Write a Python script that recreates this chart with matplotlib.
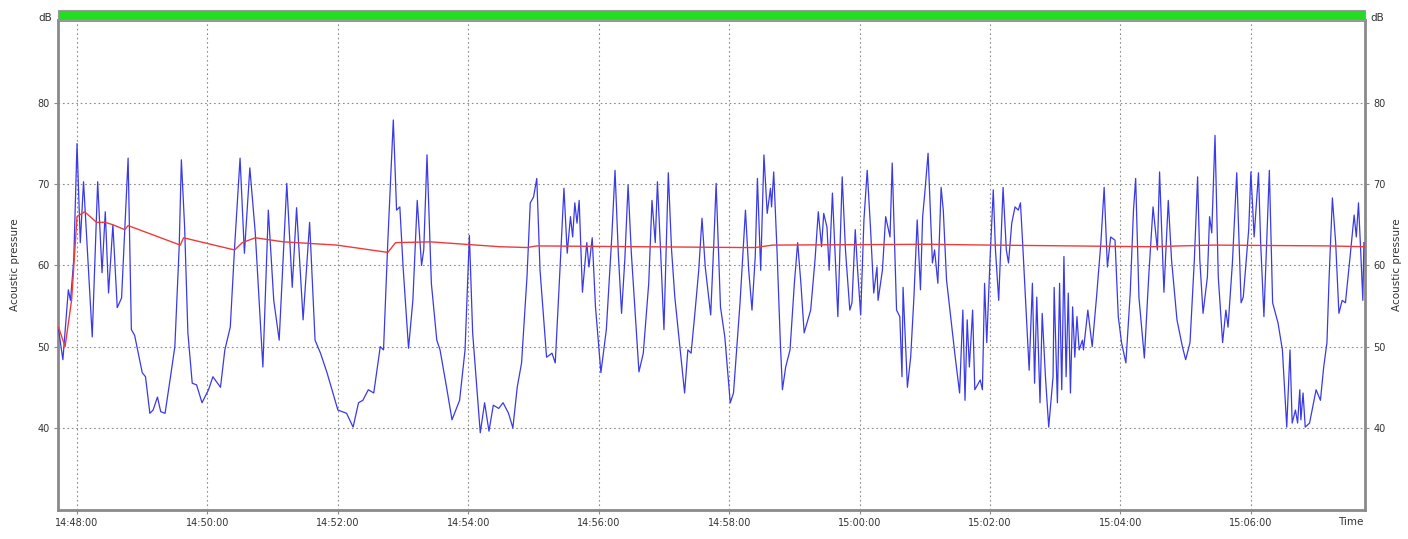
import matplotlib
matplotlib.use("Agg")
import matplotlib.pyplot as plt
from matplotlib.ticker import FixedLocator, FuncFormatter
from matplotlib.patches import Rectangle

# Sound level recording, time in seconds after 14:48:00
start_h, start_m = 14, 48

level_t = [-17, -13, -8, -6, -3, 0, 3, 6, 9, 14, 19, 23, 26, 29, 33, 37, 41, 47, 50, 53,
           60, 63, 67, 70, 74, 77, 81, 86, 90, 94, 96, 99, 102, 106, 110, 115, 121, 125, 132, 136,
           141, 145, 150, 154, 159, 164, 171, 176, 181, 186, 193, 198, 202, 208, 214, 219, 224, 230, 240, 248,
           254, 259, 263, 268, 273, 279, 282, 286, 291, 294, 297, 300, 305, 309, 313, 317, 319, 322, 326, 331,
           334, 340, 345, 352, 357, 361, 364, 371, 375, 379, 383, 388, 392, 397, 401, 405, 409, 414, 417, 420,
           423, 426, 432, 437, 440, 444, 448, 451, 454, 456, 458, 460, 462, 465, 469, 471, 474, 477, 482, 487,
           492, 495, 498, 501, 504, 507, 510, 517, 521, 526, 529, 532, 534, 537, 540, 544, 547, 550, 555, 559,
           562, 565, 569, 572, 575, 578, 583, 586, 588, 592, 596, 601, 604, 610, 615, 618, 621, 624, 626, 629,
           632, 635, 638, 639, 641, 644, 647, 649, 652, 656, 660, 663, 666, 669, 675, 679, 682, 685, 687, 690,
           692, 695, 700, 704, 707, 711, 713, 716, 718, 721, 724, 727, 730, 733, 736, 737, 741, 744, 748, 750,
           754, 757, 759, 760, 764, 767, 770, 773, 776, 778, 780, 783, 787, 789, 792, 795, 797, 800, 808, 812,
           815, 817, 819, 821, 824, 826, 831, 833, 835, 837, 840, 843, 845, 848, 852, 855, 857, 860, 863, 866,
           868, 870, 874, 876, 879, 881, 883, 886, 888, 891, 894, 898, 899, 902, 904, 906, 908, 910, 912, 914,
           916, 918, 920, 922, 925, 926, 930, 934, 938, 942, 945, 948, 951, 955, 958, 961, 965, 969, 972, 974,
           977, 982, 986, 990, 994, 996, 1000, 1004, 1007, 1012, 1017, 1020, 1024, 1028, 1031, 1033, 1036, 1040, 1042, 1044,
           1047, 1050, 1054, 1057, 1059, 1063, 1067, 1071, 1073, 1078, 1080, 1083, 1087, 1089, 1092, 1095, 1097, 1100, 1105, 1109,
           1113, 1116, 1118, 1121, 1123, 1125, 1126, 1128, 1130, 1134, 1140, 1144, 1147, 1150, 1152, 1155, 1158, 1161, 1164, 1167,
           1171, 1175, 1177, 1179, 1181, 1183, 1184]

level_db = [52.1, 48.4, 57.0, 55.7, 60.7, 75.0, 62.8, 70.3, 63.1, 51.2, 70.3, 59.1, 66.6, 56.6, 65.0, 54.8, 56.0, 73.2, 52.1, 51.4,
            46.8, 46.3, 41.8, 42.2, 43.8, 42.0, 41.8, 46.3, 50.0, 62.3, 73.0, 64.7, 51.7, 45.5, 45.3, 43.1, 44.7, 46.3, 45.0, 49.6,
            52.4, 62.3, 73.2, 61.5, 72.0, 64.0, 47.5, 66.8, 55.7, 50.8, 70.1, 57.3, 67.1, 53.3, 65.3, 50.8, 49.2, 46.8, 42.2, 41.8,
            40.1, 43.1, 43.4, 44.7, 44.3, 50.0, 49.6, 63.1, 77.9, 66.8, 67.2, 59.8, 49.8, 55.7, 68.0, 60.0, 61.9, 73.6, 57.8, 50.8,
            49.6, 45.0, 41.0, 43.4, 49.6, 63.7, 51.7, 39.4, 43.1, 39.6, 42.8, 42.4, 43.1, 41.8, 40.0, 45.0, 48.0, 58.6, 67.7, 68.4,
            70.7, 59.4, 48.7, 49.2, 48.0, 58.6, 69.5, 61.5, 66.0, 63.5, 67.7, 65.2, 68.0, 56.7, 62.8, 59.8, 63.4, 54.9, 46.8, 52.1,
            63.5, 71.7, 61.5, 54.1, 60.7, 69.9, 61.5, 46.9, 49.2, 57.8, 68.0, 62.8, 70.3, 61.5, 52.1, 71.4, 61.9, 56.1, 49.6, 44.3,
            49.6, 49.2, 54.9, 59.4, 65.8, 59.8, 53.9, 63.1, 70.1, 54.9, 51.2, 43.1, 44.3, 55.4, 66.8, 59.4, 54.5, 61.1, 70.7, 59.4,
            73.6, 66.4, 69.5, 67.2, 71.5, 61.9, 50.8, 44.7, 47.5, 49.6, 57.8, 62.8, 57.8, 51.7, 54.5, 60.7, 66.6, 62.3, 66.4, 64.7,
            59.4, 68.9, 53.7, 70.9, 61.9, 54.5, 55.4, 64.4, 59.8, 53.9, 65.6, 71.7, 64.7, 56.6, 59.8, 55.7, 59.4, 66.0, 63.5, 72.6,
            54.5, 53.7, 46.3, 57.3, 45.0, 48.7, 56.1, 65.6, 57.0, 66.0, 68.9, 73.8, 60.3, 61.9, 57.8, 69.6, 66.8, 58.2, 48.7, 44.3,
            54.5, 43.4, 53.3, 47.5, 54.5, 44.7, 45.9, 44.7, 57.8, 50.5, 60.7, 69.3, 61.9, 55.7, 69.6, 61.9, 60.3, 65.2, 67.2, 66.8,
            67.7, 62.8, 52.4, 47.1, 57.8, 45.5, 56.1, 43.1, 54.1, 46.3, 40.1, 46.3, 57.3, 43.1, 57.8, 44.7, 61.1, 46.3, 56.6, 44.3,
            54.9, 48.7, 53.7, 49.6, 50.8, 49.6, 54.5, 50.0, 56.1, 62.8, 69.6, 59.8, 63.5, 63.1, 53.7, 50.5, 48.0, 56.6, 66.8, 70.7,
            56.1, 48.6, 58.6, 67.2, 61.9, 71.5, 56.7, 68.0, 60.7, 53.3, 50.0, 48.4, 50.5, 60.7, 70.9, 60.7, 54.1, 58.6, 66.0, 64.0,
            76.0, 58.6, 50.5, 54.5, 52.4, 60.3, 71.4, 55.4, 56.1, 64.4, 71.5, 63.5, 71.4, 62.8, 53.7, 64.4, 71.7, 55.4, 52.9, 49.6,
            40.1, 49.6, 40.6, 42.2, 40.6, 44.7, 41.0, 44.3, 40.1, 40.6, 44.7, 43.4, 47.5, 50.5, 58.6, 68.3, 62.8, 54.1, 55.7, 55.4,
            60.7, 66.2, 63.5, 67.7, 61.9, 55.7, 62.8]

# Running equivalent level
leq_t = [-17, -11, -5, 0, 7, 18, 26, 33, 44, 47, 95, 98, 145, 152, 164, 190, 239, 286, 293, 325,
         389, 414, 423, 612, 624, 640, 783, 840, 987, 1045, 1150, 1185]
leq_db = [52.4, 50.0, 55.7, 66.0, 66.6, 65.3, 65.3, 65.0, 64.4, 64.9, 62.5, 63.4, 61.9, 62.8, 63.4, 62.9, 62.5, 61.6, 62.8, 62.9,
          62.3, 62.2, 62.4, 62.2, 62.2, 62.5, 62.6, 62.5, 62.3, 62.5, 62.4, 62.3]

time_ticks = [0, 120, 240, 360, 480, 600, 720, 840, 960, 1080]
db_ticks = [40, 50, 60, 70, 80]

W, H = 1408, 539
fig = plt.figure(figsize=(W / 100, H / 100), dpi=100)
fig.patch.set_facecolor("white")

x0, x1, y_top, y_bot = 58, 1365, 20, 510
ax = fig.add_axes([x0 / W, 1 - y_bot / H, (x1 - x0) / W, (y_bot - y_top) / H])

ax.plot(level_t, level_db, color="#3a3ae6", lw=0.9, zorder=3)
ax.plot(leq_t, leq_db, color="#f03a3a", lw=1.0, zorder=4)

ax.set_xlim(-17.5, 1185)
ax.set_ylim(29.9, 90.2)

def fmt_time(v, _pos):
    s = int(round(v)) + (start_h * 3600 + start_m * 60)
    return f"{s // 3600:02d}:{(s % 3600) // 60:02d}:{s % 60:02d}"

ax.xaxis.set_major_locator(FixedLocator(time_ticks))
ax.xaxis.set_major_formatter(FuncFormatter(fmt_time))
ax.yaxis.set_major_locator(FixedLocator(db_ticks))

ax.grid(True, color="#8c8c8c", lw=0.8, ls=(0, (1.5, 2.5)))
ax.set_axisbelow(True)

for sp in ax.spines.values():
    sp.set_color("#8a8a8a")
    sp.set_linewidth(2.0)

ax.tick_params(axis="both", labelsize=7, colors="#8a8a8a", labelcolor="#333333",
               length=3, width=0.8, pad=3)
ax.tick_params(axis="y", right=True, labelright=True)

txt = dict(color="#333333", fontsize=7.5)
fig.text(52 / W, 1 - 18 / H, "dB", ha="right", va="center", **txt)
fig.text(1370 / W, 1 - 18 / H, "dB", ha="left", va="center", **txt)
fig.text(15 / W, 1 - 265 / H, "Acoustic pressure", rotation=90, ha="center", va="center", **txt)
fig.text(1397 / W, 1 - 265 / H, "Acoustic pressure", rotation=90, ha="center", va="center", **txt)
fig.text(1351 / W, 1 - 522 / H, "Time", ha="center", va="center", **txt)

# status bar above the plot area
fig.patches.append(Rectangle((x0 / W, 1 - 20 / H), (x1 - x0) / W, 10 / H,
                             transform=fig.transFigure, facecolor="#22dd22",
                             edgecolor="#9a9a9a", lw=0.8))

fig.savefig("out.png", dpi=100, facecolor="white")
